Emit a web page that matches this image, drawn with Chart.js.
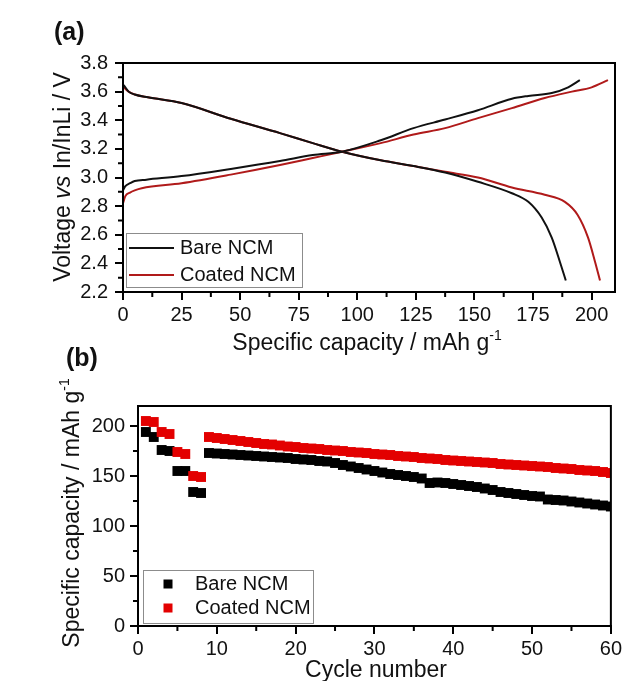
<!DOCTYPE html>
<html>
<head>
<meta charset="utf-8">
<script src="https://cdn.jsdelivr.net/npm/chart.js@4.4.0/dist/chart.umd.min.js"></script>
<style>
  body { margin: 0; background: #fff; }
  #wrap { position: relative; width: 625px; height: 681px; overflow: hidden; background: #fff;
          font-family: "Liberation Sans", Arial, sans-serif; color: #111; }
  #wrap canvas { position: absolute; left: 0; }
  .t { position: absolute; white-space: nowrap; font-size: 23px; line-height: 23px; }
  .panel { position: absolute; font-weight: bold; font-size: 25px; line-height: 25px; }
  .rot { transform: translate(-50%, -50%) rotate(-90deg); }
  .hc { transform: translateX(-50%); }
  .sup { font-size: 14px; position: relative; top: -10px; }
</style>
</head>
<body>
<div id="wrap">
  <canvas id="voltChart" width="625" height="330" style="top:0"></canvas>
  <canvas id="cycleChart" width="625" height="351" style="top:330px"></canvas>

  <div class="panel" style="left:54px; top:19px">(a)</div>
  <div class="t rot" style="left:62px; top:177px">Voltage <i>vs</i> In/InLi / V</div>
  <div class="t hc" style="left:367px; top:331px">Specific capacity / mAh g<span class="sup">-1</span></div>

  <div class="panel" style="left:66px; top:345px">(b)</div>
  <div class="t rot" style="left:73px; top:513px">Specific capacity / mAh g<span class="sup">-1</span></div>
  <div class="t hc" style="left:376px; top:658px">Cycle number</div>
</div>

<script>
// (a) voltage profiles, capacity in mAh/g vs voltage in V
const bareChargeCap = [0, 1, 3, 5, 10, 25, 46, 67, 81, 93.5, 110, 124, 137.5, 151.5, 166, 173, 183, 190, 195];
const bareChargeV = [2.91, 2.94, 2.96, 2.975, 2.985, 3.01, 3.06, 3.115, 3.157, 3.18, 3.26, 3.345, 3.405, 3.47, 3.55, 3.57, 3.59, 3.63, 3.68];
const coatedChargeCap = [0, 1, 3, 5, 8, 25, 46, 67, 81, 93.5, 110, 124, 137.5, 151.5, 166, 180, 191.6, 200, 207];
const coatedChargeV = [2.82, 2.87, 2.895, 2.91, 2.925, 2.96, 3.02, 3.087, 3.136, 3.18, 3.24, 3.30, 3.345, 3.415, 3.485, 3.555, 3.60, 3.63, 3.68];
const bareDischargeCap = [0, 1, 2.4, 5, 10.6, 25, 46, 67, 81, 93.5, 110, 124, 137.5, 151.5, 166, 173, 178.7, 183, 186.5, 189];
const bareDischargeV = [3.65, 3.63, 3.60, 3.58, 3.56, 3.52, 3.41, 3.31, 3.24, 3.18, 3.12, 3.08, 3.035, 2.97, 2.89, 2.83, 2.72, 2.58, 2.41, 2.28];
const coatedDischargeCap = [0, 1, 2.4, 5, 10.6, 25, 46, 67, 81, 93.5, 110, 124, 137.5, 151.5, 166, 180, 188.6, 194, 198.5, 201.5, 203.6];
const coatedDischargeV = [3.64, 3.62, 3.60, 3.58, 3.56, 3.52, 3.41, 3.31, 3.24, 3.18, 3.12, 3.08, 3.04, 3.00, 2.93, 2.88, 2.83, 2.74, 2.58, 2.41, 2.28];

// (b) cycling, discharge capacity per cycle
const cycles = Array.from({length: 60}, (_, i) => i + 1);
const bareCap = [194, 189, 176, 175, 155, 155, 134, 133,
  173, 172.5, 172, 171.5, 171, 170.5, 170, 169.5, 169, 168.5,
  168, 167, 166.5, 166, 165, 164.5, 163, 161, 159.5, 158,
  156.5, 155, 153.5, 152, 151, 150, 149, 147.5, 143, 143.5,
  143, 142, 141, 140, 139, 137.5, 136, 134, 133, 132,
  131, 130, 129.5, 126.5, 126, 125.5, 124.5, 123.5, 122.5, 121.5,
  120.5, 119.5];
const coatedCap = [205, 204, 194, 192, 174, 172, 150, 149,
  189, 188, 187, 186, 185, 184, 183, 182, 181.5, 180.5,
  179.5, 179, 178, 177.5, 177, 176, 175.5, 175, 174, 173.5,
  173, 172, 171.5, 171, 170, 169.5, 169, 168, 167.5, 167,
  166, 165.5, 165, 164.5, 164, 163.5, 163, 162, 161.5, 161,
  160.5, 160, 159.5, 159, 158, 157.5, 157, 156, 155.5, 155,
  154, 153];

const FONT = '"Liberation Sans", Arial, sans-serif';
Chart.defaults.font.family = FONT;
Chart.defaults.color = '#111';

const BLACK = '#111111';
const DARK_RED = '#b01a1a';
const RED = '#e30000';

const pts = (xs, ys) => xs.map((x, i) => ({x, y: ys[i]}));

// box around the plot area plus the short minor ticks between labelled ones
const axesBox = {
  id: 'axesBox',
  afterDraw(chart, args, o) {
    const {ctx, chartArea: a} = chart;
    ctx.save();
    ctx.strokeStyle = '#000';
    ctx.lineWidth = 2;
    ctx.strokeRect(a.left, a.top, a.right - a.left, a.bottom - a.top);
    ctx.beginPath();
    const sx = chart.scales.x, sy = chart.scales.y;
    for (let v = o.x; v < sx.max; v += 2 * o.x) {
      const px = sx.getPixelForValue(v);
      ctx.moveTo(px, a.bottom); ctx.lineTo(px, a.bottom + 5);
    }
    for (let v = sy.min + o.y; v < sy.max; v += 2 * o.y) {
      const py = sy.getPixelForValue(v);
      ctx.moveTo(a.left, py); ctx.lineTo(a.left - 5, py);
    }
    ctx.stroke();
    ctx.restore();
  }
};

// framed legend sitting in the lower left corner of the plot
const boxLegend = {
  id: 'boxLegend',
  afterDraw(chart, args, o) {
    const {ctx, chartArea: a} = chart;
    const x = a.left + o.left, y = a.bottom - o.bottom - o.height;
    ctx.save();
    ctx.fillStyle = '#fff';
    ctx.fillRect(x, y, o.width, o.height);
    ctx.strokeStyle = '#8c8c8c';
    ctx.lineWidth = 1;
    ctx.strokeRect(x + 0.5, y + 0.5, o.width, o.height);
    ctx.font = '20px ' + FONT;
    ctx.textBaseline = 'middle';
    chart.data.datasets.filter(ds => ds.inLegend !== false).forEach((ds, i) => {
      const cy = y + o.firstRow + i * o.rowGap;
      const col = ds.borderColor || ds.backgroundColor;
      if (o.marker === 'line') {
        ctx.strokeStyle = col;
        ctx.lineWidth = 2;
        ctx.beginPath();
        ctx.moveTo(x + o.markLeft, cy);
        ctx.lineTo(x + o.markLeft + o.markWidth, cy);
        ctx.stroke();
      } else {
        ctx.fillStyle = ds.backgroundColor;
        ctx.fillRect(x + o.markLeft - 4.5, cy - 4.5, 9, 9);
      }
      ctx.fillStyle = '#111';
      ctx.fillText(ds.label, x + o.textLeft, cy);
    });
    ctx.restore();
  }
};

function axis(min, max, step, fit, tickPad, fmt) {
  return {
    type: 'linear', min, max,
    ticks: {stepSize: step, includeBounds: false, autoSkip: false, maxRotation: 0,
            padding: tickPad, font: {size: 20}, color: '#111', callback: fmt},
    grid: {drawOnChartArea: false, color: '#000', lineWidth: 2, tickLength: 8},
    border: {color: '#000', width: 2},
    afterFit: fit
  };
}

const lineDs = (label, xs, ys, color, inLegend) => ({
  label, data: pts(xs, ys), borderColor: color, backgroundColor: color,
  borderWidth: 2, pointRadius: 0, cubicInterpolationMode: 'monotone', inLegend
});

new Chart(document.getElementById('voltChart'), {
  type: 'line',
  data: {
    datasets: [
      lineDs('Bare NCM', bareChargeCap, bareChargeV, BLACK, true),
      lineDs('Coated NCM', coatedChargeCap, coatedChargeV, DARK_RED, true),
      lineDs('Bare NCM', bareDischargeCap, bareDischargeV, BLACK, false),
      lineDs('Coated NCM', coatedDischargeCap, coatedDischargeV, DARK_RED, false)
    ]
  },
  options: {
    responsive: false, animation: false,
    layout: {padding: {top: 63, right: 10, left: 0, bottom: 0}},
    scales: {
      x: axis(0, 210, 25, s => { s.height = 38; }, 3),
      y: axis(2.2, 3.8, 0.2, s => { s.width = 123; }, 7, v => v.toFixed(1))
    },
    plugins: {
      legend: {display: false}, tooltip: {enabled: false},
      axesBox: {x: 12.5, y: 0.1},
      boxLegend: {marker: 'line', left: 3, bottom: 5, width: 176, height: 54,
                  firstRow: 15, rowGap: 27, markLeft: 3, markWidth: 45, textLeft: 54}
    }
  },
  plugins: [axesBox, boxLegend]
});

new Chart(document.getElementById('cycleChart'), {
  type: 'scatter',
  data: {
    datasets: [
      {label: 'Bare NCM', data: pts(cycles, bareCap), backgroundColor: '#000', borderWidth: 0,
       pointStyle: 'rect', pointRadius: 7, order: 2},
      {label: 'Coated NCM', data: pts(cycles, coatedCap), backgroundColor: RED, borderWidth: 0,
       pointStyle: 'rect', pointRadius: 7, order: 1}
    ]
  },
  options: {
    responsive: false, animation: false,
    layout: {padding: {top: 76, right: 13, left: 0, bottom: 0}},
    scales: {
      x: axis(0, 60, 10, s => { s.height = 55; }, 3),
      y: axis(0, 220, 50, s => { s.width = 138; }, 5)
    },
    plugins: {
      legend: {display: false}, tooltip: {enabled: false},
      axesBox: {x: 5, y: 25},
      boxLegend: {marker: 'square', left: 5, bottom: 3, width: 170, height: 53,
                  firstRow: 14, rowGap: 24, markLeft: 25, textLeft: 52}
    }
  },
  plugins: [axesBox, boxLegend]
});
</script>
</body>
</html>
